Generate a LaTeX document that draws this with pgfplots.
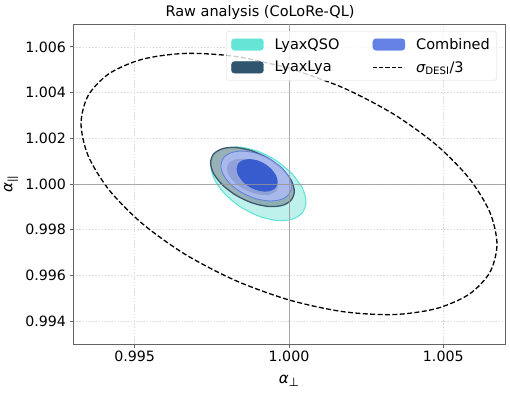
\documentclass[border=0pt]{standalone}
\usepackage{pgfplots}
\pgfplotsset{compat=1.18}
\usepackage{fontspec}
\setmainfont{DejaVu Sans}

\definecolor{qsoEdge}{RGB}{90,228,214}
\definecolor{qsoTwo}{RGB}{190,241,235}
\definecolor{qsoOne}{RGB}{120,228,215}
\definecolor{lyaEdge}{RGB}{60,88,108}
\definecolor{lyaTwo}{RGB}{146,166,175}
\definecolor{lyaOne}{RGB}{47,79,111}
\definecolor{combEdge}{RGB}{80,115,225}
\definecolor{combTwo}{RGB}{177,189,253}
\definecolor{combOne}{RGB}{45,85,205}
\definecolor{legQSO}{RGB}{100,229,214}
\definecolor{legLya}{RGB}{47,85,111}
\definecolor{legComb}{RGB}{100,130,230}
\definecolor{framecol}{RGB}{100,100,100}
\definecolor{refline}{RGB}{150,150,150}

\begin{document}
\begin{tikzpicture}
\useasboundingbox (-73pt,-48pt) rectangle (437pt,344pt);
\begin{axis}[
  width=432pt, height=320pt, scale only axis,
  xmin=0.993, xmax=1.007, ymin=0.993, ymax=1.007,
  xtick={0.995,1.000,1.005}, xticklabels={0.995,1.000,1.005},
  ytick={0.994,0.996,0.998,1.000,1.002,1.004,1.006},
  yticklabels={0.994,0.996,0.998,1.000,1.002,1.004,1.006},
  tick pos=left, tick align=outside, major tick length=3.5pt,
  every tick/.style={framecol, line width=0.8pt},
  axis line style={framecol, line width=0.8pt},
  grid=major,
  grid style={black!14, dash pattern=on 1.6pt off 1.6pt, line width=0.5pt},
  tick label style={font=\fontsize{14.2}{16}\selectfont},
  title={Raw analysis (CoLoRe-QL)},
  title style={at={(axis description cs:0.433,1.006)}, anchor=base, font=\fontsize{14.5}{17}\selectfont},
  xlabel={{\itshape α}{\fontsize{12}{14}\selectfont\raisebox{-3pt}{⊥}}},
  ylabel={{\itshape α}\textsubscript{||}},
  xlabel style={at={(axis description cs:0.5,-0.122)}, anchor=base, font=\fontsize{15}{17}\selectfont},
  ylabel style={at={(axis description cs:-0.1435,0.5)}, anchor=center, font=\fontsize{15}{17}\selectfont},
  legend columns=2, legend cell align=left,
  legend style={at={(0.9815,0.978)}, anchor=north east, draw=black!15, rounded corners=3pt,
    fill=white, fill opacity=0.8, text opacity=1, font=\fontsize{14.5}{17}\selectfont,
    inner xsep=5pt, inner ysep=5pt, row sep=6.5pt, nodes={inner sep=2pt},
    /tikz/every odd column/.append style={column sep=9pt},
    /tikz/every even column/.append style={column sep=30.8pt}},
]
\addlegendimage{legend image code/.code={\fill[legQSO, fill opacity=1] (0pt,-5.75pt) rectangle (32pt,5.75pt);}}
\addlegendentry{LyaxQSO}
\addlegendimage{legend image code/.code={\fill[legComb, fill opacity=1] (0pt,-5.75pt) rectangle (32pt,5.75pt);}}
\addlegendentry{Combined}
\addlegendimage{legend image code/.code={\fill[legLya, fill opacity=1] (0pt,-5.75pt) rectangle (32pt,5.75pt);}}
\addlegendentry{LyaxLya}
\addlegendimage{legend image code/.code={\draw[black, draw opacity=1, line width=1.3pt, dash pattern=on 4.2pt off 2pt] (0pt,0pt) -- (31pt,0pt);}}
\addlegendentry{{\itshape σ}\textsubscript{DESI}/3}

% LyaxQSO 2 sigma
\addplot[forget plot, smooth, fill=qsoTwo, draw=qsoEdge, line width=1pt] coordinates {
(1.000100,1.000453) (0.999600,1.001015) (0.999010,1.001422) (0.998420,1.001615) (0.997920,1.001563) (0.997585,1.001275) (0.997468,1.000795) (0.997585,1.000195) (0.997920,0.999567) (0.998420,0.999005) (0.999010,0.998598) (0.999600,0.998405) (1.000100,0.998457) (1.000435,0.998745) (1.000552,0.999225) (1.000435,0.999825) (1.000100,1.000453)};
% LyaxQSO 1 sigma
\addplot[forget plot, smooth, fill=qsoOne, draw=none] coordinates {
(0.999675,1.000280) (0.999370,1.000623) (0.999010,1.000871) (0.998650,1.000989) (0.998345,1.000957) (0.998141,1.000782) (0.998069,1.000489) (0.998141,1.000123) (0.998345,0.999740) (0.998650,0.999397) (0.999010,0.999149) (0.999370,0.999031) (0.999675,0.999063) (0.999879,0.999238) (0.999951,0.999531) (0.999879,0.999897) (0.999675,1.000280)};
% LyaxLya 2 sigma
\addplot[forget plot, smooth, fill=lyaTwo, fill opacity=0.85, draw=lyaEdge, line width=1.3pt] coordinates {
(0.999775,1.000667) (0.999334,1.001117) (0.998815,1.001442) (0.998296,1.001595) (0.997855,1.001551) (0.997561,1.001318) (0.997458,1.000931) (0.997561,1.000448) (0.997855,0.999945) (0.998296,0.999495) (0.998815,0.999170) (0.999334,0.999017) (0.999775,0.999061) (1.000069,0.999294) (1.000172,0.999681) (1.000069,1.000164) (0.999775,1.000667)};
% LyaxLya 1 sigma
\addplot[forget plot, smooth, fill=lyaOne, draw=none] coordinates {
(0.999401,1.000526) (0.999132,1.000801) (0.998815,1.000999) (0.998498,1.001092) (0.998229,1.001065) (0.998050,1.000923) (0.997987,1.000687) (0.998050,1.000393) (0.998229,1.000086) (0.998498,0.999811) (0.998815,0.999613) (0.999132,0.999520) (0.999401,0.999547) (0.999580,0.999689) (0.999643,0.999925) (0.999580,1.000219) (0.999401,1.000526)};
% Combined 2 sigma
\addplot[forget plot, smooth, fill=combTwo, fill opacity=0.75, draw=combEdge, draw opacity=0.8, line width=0.8pt] coordinates {
(0.999752,1.000736) (0.999379,1.001098) (0.998940,1.001345) (0.998501,1.001440) (0.998128,1.001370) (0.997879,1.001144) (0.997792,1.000797) (0.997879,1.000382) (0.998128,0.999962) (0.998501,0.999600) (0.998940,0.999353) (0.999379,0.999258) (0.999752,0.999328) (1.000001,0.999554) (1.000088,0.999901) (1.000001,1.000316) (0.999752,1.000736)};
% Combined 1 sigma
\addplot[forget plot, smooth, fill=combOne, fill opacity=0.9, draw=none] coordinates {
(0.999439,1.000646) (0.999223,1.000879) (0.998968,1.001035) (0.998713,1.001091) (0.998497,1.001040) (0.998353,1.000886) (0.998302,1.000656) (0.998353,1.000384) (0.998497,1.000110) (0.998713,0.999877) (0.998968,0.999721) (0.999223,0.999665) (0.999439,0.999716) (0.999583,0.999870) (0.999634,1.000100) (0.999583,1.000372) (0.999439,1.000646)};
% sigma_DESI/3
\addplot[forget plot, smooth, black, line width=1.3pt, dash pattern=on 5pt off 2.4pt] coordinates {
(1.000000,1.005072) (0.998256,1.005583) (0.996630,1.005713) (0.995234,1.005453) (0.994163,1.004823) (0.993490,1.003864) (0.993260,1.002641) (0.993490,1.001238) (0.994163,0.999751) (0.995234,0.998281) (0.996630,0.996928) (0.998256,0.995784) (1.000000,0.994928) (1.001744,0.994417) (1.003370,0.994287) (1.004766,0.994547) (1.005837,0.995177) (1.006510,0.996136) (1.006740,0.997359) (1.006510,0.998762) (1.005837,1.000249) (1.004766,1.001719) (1.003370,1.003072) (1.001744,1.004216) (1.000000,1.005072)};
% reference lines
\addplot[forget plot, refline, line width=1pt, opacity=0.8] coordinates {(1.000,0.993) (1.000,1.007)};
\addplot[forget plot, refline, line width=1pt, opacity=0.8] coordinates {(0.993,1.000) (1.007,1.000)};
\end{axis}
\end{tikzpicture}
\end{document}
